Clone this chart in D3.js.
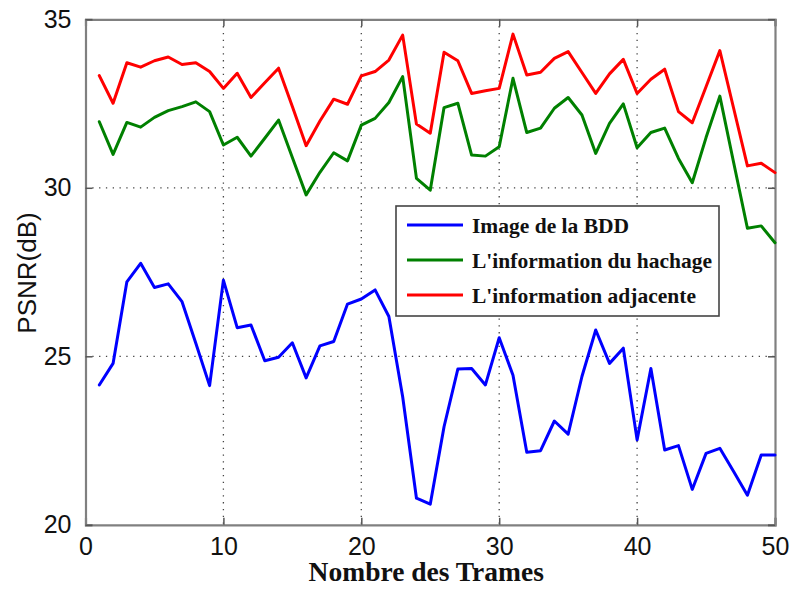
<html>
	<head>
		<script src="https://d3js.org/d3.v7.min.js"></script>
		<style>
			body { margin: 0; background: #fff; }
		</style>
	</head>
	<body>
		<svg width="793" height="590"></svg>
		<script>

		// frame numbers (x)
		var frames = [1,2,3,4,5,6,7,8,9,10,11,12,13,14,15,16,17,18,19,20,21,22,23,24,25,
			26,27,28,29,30,31,32,33,34,35,36,37,38,39,40,41,42,43,44,45,46,47,48,49,50];

		// PSNR values
		var psnrBDD = [24.15,24.79,27.21,27.76,27.04,27.15,26.62,25.39,24.13,27.26,
			25.85,25.93,24.87,24.97,25.40,24.36,25.31,25.44,26.55,26.70,
			26.97,26.18,23.80,20.79,20.61,22.91,24.62,24.64,24.15,25.55,
			24.44,22.15,22.20,23.08,22.69,24.40,25.78,24.79,25.24,22.52,
			24.64,22.22,22.35,21.05,22.12,22.27,21.58,20.88,22.07,22.07];

		var psnrHachage = [31.96,30.99,31.94,31.80,32.09,32.29,32.41,32.55,32.26,31.27,
			31.50,30.94,31.47,32.01,30.90,29.79,30.46,31.04,30.80,31.86,
			32.06,32.53,33.30,30.28,29.93,32.38,32.51,30.97,30.94,31.22,
			33.25,31.64,31.77,32.36,32.68,32.16,31.02,31.91,32.49,31.19,
			31.64,31.77,30.87,30.15,31.49,32.72,30.75,28.80,28.87,28.37];

		var psnrAdjacente = [33.33,32.51,33.71,33.58,33.77,33.88,33.66,33.71,33.45,32.95,
			33.40,32.68,33.12,33.55,32.41,31.25,31.98,32.63,32.48,33.32,
			33.45,33.79,34.53,31.89,31.62,34.02,33.77,32.80,32.88,32.95,
			34.56,33.35,33.43,33.84,34.04,33.42,32.80,33.38,33.81,32.80,
			33.22,33.52,32.26,31.93,33.00,34.07,32.36,30.65,30.73,30.45];

		var xTicks = [0,10,20,30,40,50];
		var yTicks = [20,25,30,35];

		var seriesNames = ["Image de la BDD", "L'information du hachage", "L'information adjacente"];
		var seriesColors = ["#0000ff", "#008000", "#ff0000"];
		var seriesValues = [psnrBDD, psnrHachage, psnrAdjacente];

		var svg = d3.select("svg"),
		margin = {top:19.3, left:85.5, bottom:65.2, right:18},
		width = +svg.attr("width") - margin.left - margin.right,
		height = +svg.attr("height") - margin.top - margin.bottom,
		g = svg.append("g").attr("transform", "translate(" + margin.left + "," + margin.top + ")");

		var x = d3.scaleLinear().domain([0, 50]).range([0, width]);
		var y = d3.scaleLinear().domain([20, 35]).range([height, 0]);

		// dotted grid
		g.append("g")
			.selectAll("line")
			.data(xTicks.slice(1, -1))
			.enter().append("line")
			.attr("x1", function(d) { return x(d); })
			.attr("x2", function(d) { return x(d); })
			.attr("y1", 0)
			.attr("y2", height)
			.attr("stroke", "#444")
			.attr("stroke-width", 1.3)
			.attr("stroke-dasharray", "1.3,5.5");

		g.append("g")
			.selectAll("line")
			.data(yTicks.slice(1, -1))
			.enter().append("line")
			.attr("x1", 0)
			.attr("x2", width)
			.attr("y1", function(d) { return y(d); })
			.attr("y2", function(d) { return y(d); })
			.attr("stroke", "#444")
			.attr("stroke-width", 1.3)
			.attr("stroke-dasharray", "1.3,5.5");

		// axes (matlab style, ticks inside)
		var xAxis = g.append("g")
			.attr("transform", "translate(0," + height + ")")
			.call(d3.axisBottom(x).tickValues(xTicks).tickSize(-7).tickPadding(12).tickFormat(d3.format("d")));
		var xTop = g.append("g")
			.call(d3.axisTop(x).tickValues(xTicks).tickSize(-7).tickFormat(""));
		var yAxis = g.append("g")
			.call(d3.axisLeft(y).tickValues(yTicks).tickSize(-7).tickPadding(14).tickFormat(d3.format("d")));
		var yRight = g.append("g")
			.attr("transform", "translate(" + width + ",0)")
			.call(d3.axisRight(y).tickValues(yTicks).tickSize(-7).tickFormat(""));

		[xAxis, xTop, yAxis, yRight].forEach(function(a) {
			a.select(".domain").attr("stroke", "#808080").attr("stroke-width", 2.2);
			a.selectAll(".tick line").attr("stroke", "#555").attr("stroke-width", 1.5);
			a.selectAll(".tick text")
				.attr("fill", "#111")
				.style("font-family", "'Liberation Sans', Arial, sans-serif")
				.style("font-size", "25px");
		});
		xAxis.selectAll(".tick text").attr("dy", "0.71em");

		// series lines
		var line = d3.line()
			.x(function(d, i) { return x(frames[i]); })
			.y(function(d) { return y(d); });

		seriesValues.forEach(function(vals, k) {
			g.append("path")
				.datum(vals)
				.attr("fill", "none")
				.attr("stroke", seriesColors[k])
				.attr("stroke-linejoin", "round")
				.attr("stroke-linecap", "round")
				.attr("stroke-width", 3)
				.attr("d", line);
		});

		// legend
		var legend = svg.append("g").attr("transform", "translate(396,206)");
		legend.append("rect")
			.attr("x", 0).attr("y", 0)
			.attr("width", 323).attr("height", 110)
			.attr("fill", "#fff")
			.attr("stroke", "#444")
			.attr("stroke-width", 1.6);

		seriesNames.forEach(function(name, k) {
			var ly = 19 + k * 35;
			legend.append("line")
				.attr("x1", 11).attr("x2", 67)
				.attr("y1", ly).attr("y2", ly)
				.attr("stroke", seriesColors[k])
				.attr("stroke-width", 3);
			legend.append("text")
				.attr("x", 76)
				.attr("y", ly + 8)
				.attr("fill", "#111")
				.style("font-family", "'Liberation Serif', 'Times New Roman', serif")
				.style("font-weight", "bold")
				.style("font-size", "21.5px")
				.text(name);
		});

		// axis labels
		svg.append("text")
			.attr("x", margin.left + width / 2 - 4)
			.attr("y", 581)
			.attr("text-anchor", "middle")
			.attr("fill", "#111")
			.style("font-family", "'Liberation Serif', 'Times New Roman', serif")
			.style("font-weight", "bold")
			.style("font-size", "27.5px")
			.text("Nombre des Trames");

		svg.append("text")
			.attr("transform", "translate(36,273) rotate(-90)")
			.attr("text-anchor", "middle")
			.attr("fill", "#111")
			.style("font-family", "'Liberation Sans', Arial, sans-serif")
			.style("font-size", "26px")
			.text("PSNR(dB)");
		</script>
	</body>
</html>
